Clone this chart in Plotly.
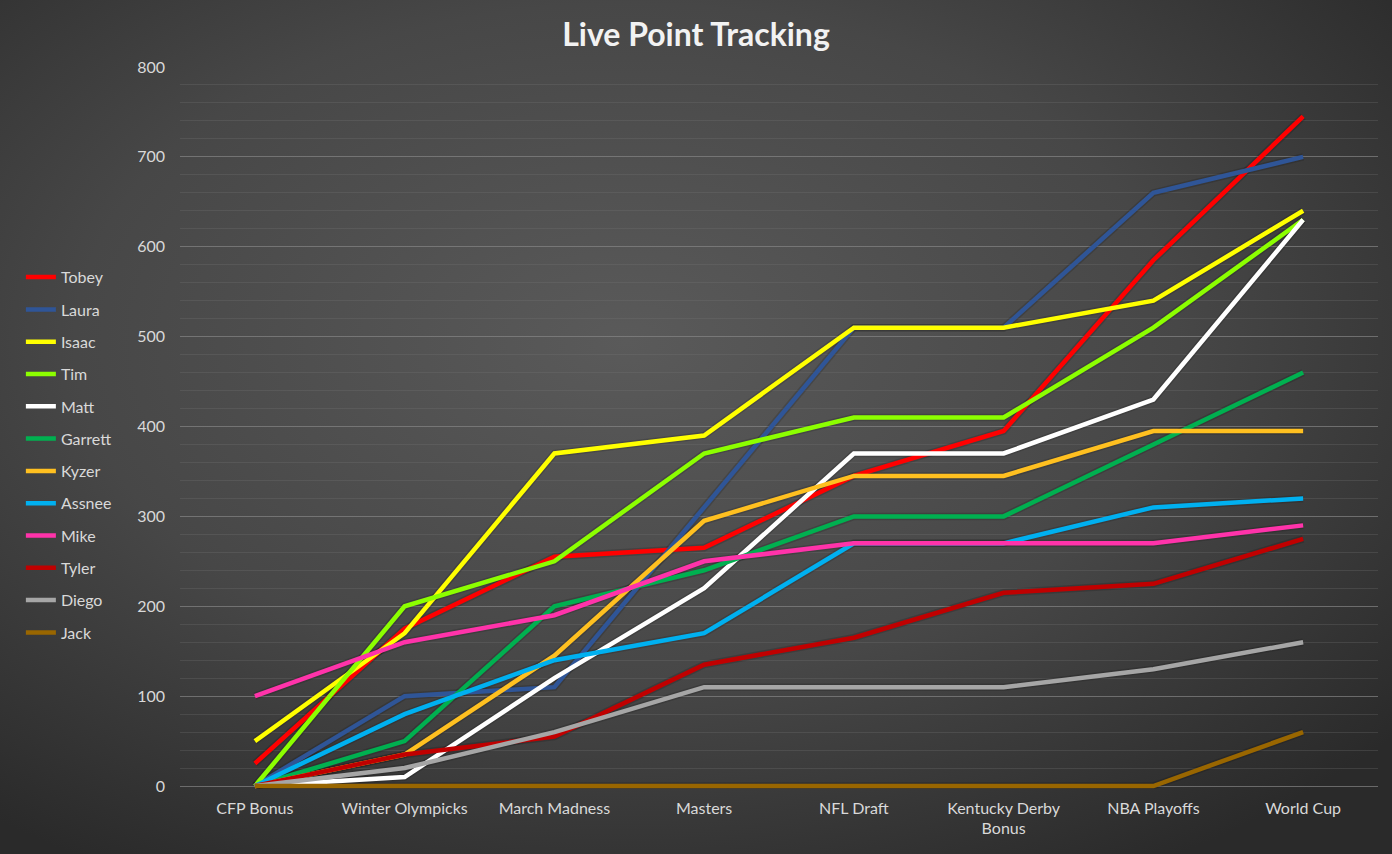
"""Live Point Tracking — 各选手累计积分折线图"""
import base64
import plotly.graph_objects as go

W, H = 1392, 854

# ============================================================
# 数据
# ============================================================
EVENTS = ["CFP Bonus", "Winter Olympicks", "March Madness", "Masters",
          "NFL Draft", "Kentucky Derby<br>Bonus", "NBA Playoffs", "World Cup"]

PLAYERS = ["Tobey", "Laura", "Isaac", "Tim", "Matt", "Garrett",
           "Kyzer", "Assnee", "Mike", "Tyler", "Diego", "Jack"]

tobey   = [25, 175, 255, 265, 345, 395, 585, 745]
laura   = [0, 100, 110, 310, 510, 510, 660, 700]
isaac   = [50, 170, 370, 390, 510, 510, 540, 640]
tim     = [0, 200, 250, 370, 410, 410, 510, 630]
matt    = [0, 10, 120, 220, 370, 370, 430, 630]
garrett = [0, 50, 200, 240, 300, 300, 380, 460]
kyzer   = [0, 35, 145, 295, 345, 345, 395, 395]
assnee  = [0, 80, 140, 170, 270, 270, 310, 320]
mike    = [100, 160, 190, 250, 270, 270, 270, 290]
tyler   = [0, 35, 55, 135, 165, 215, 225, 275]
diego   = [0, 20, 60, 110, 110, 110, 130, 160]
jack    = [0, 0, 0, 0, 0, 0, 0, 60]

SERIES = [tobey, laura, isaac, tim, matt, garrett, kyzer, assnee, mike, tyler, diego, jack]

COLORS = ["#FF0000", "#2F5597", "#FFFF00", "#8CFF00", "#FFFFFF", "#00B050",
          "#FFC020", "#00B0F0", "#FF33AA", "#C00000", "#A6A6A6", "#996600"]

Y_TICKS = [0, 100, 200, 300, 400, 500, 600, 700, 800]

FONT = "Lato, 'Open Sans', sans-serif"

# 轴位置：0 在 786px，800 在 67px；下方留一点空间让 0 线不被裁掉
PX_PER_UNIT = (786 - 67) / 800
Y_PAD = 3
Y_BOTTOM_PX = 786 + Y_PAD * PX_PER_UNIT

# ============================================================
# 背景径向渐变（SVG data URI）
# ============================================================
svg = f"""<svg xmlns="http://www.w3.org/2000/svg" width="{W}" height="{H}">
<defs><radialGradient id="g" cx="45%" cy="40%" r="72%">
<stop offset="0%" stop-color="#5a5a5a"/>
<stop offset="55%" stop-color="#474747"/>
<stop offset="100%" stop-color="#2a2a2a"/>
</radialGradient></defs>
<rect width="100%" height="100%" fill="url(#g)"/></svg>"""
bg_src = "data:image/svg+xml;base64," + base64.b64encode(svg.encode()).decode()

# ============================================================
# 画图
# ============================================================
fig = go.Figure()

# 阴影
for vals in SERIES:
    fig.add_trace(go.Scatter(
        x=EVENTS, y=vals, mode="lines",
        line=dict(color="rgba(0,0,0,0.15)", width=7.5),
        showlegend=False, hoverinfo="skip"))

for name, vals, col in zip(PLAYERS, SERIES, COLORS):
    fig.add_trace(go.Scatter(
        x=EVENTS, y=vals, mode="lines", name=name, legendgroup=name,
        line=dict(color=col, width=4.5),
        hovertemplate=name + ": %{y}<extra></extra>"))

fig.update_layout(
    width=W, height=H,
    margin=dict(l=0, r=0, t=0, b=0, autoexpand=False),
    paper_bgcolor="#404040", plot_bgcolor="rgba(0,0,0,0)",
    font=dict(family=FONT, size=16, color="#d9d9d9"),
    title=dict(text="<b>Live Point Tracking</b>", x=0.5, xanchor="center",
               y=1 - 35 / H, yanchor="middle",
               font=dict(size=32, color="#f2f2f2", family=FONT)),
    images=[dict(source=bg_src, xref="paper", yref="paper", x=0, y=1,
                 sizex=1, sizey=1, sizing="stretch", layer="below", xanchor="left", yanchor="top")],
    showlegend=True,
    legend=dict(x=0.015, xanchor="left", y=0.467, yanchor="middle",
                bgcolor="rgba(0,0,0,0)", font=dict(size=16, color="#d9d9d9"),
                tracegroupgap=8.5, itemwidth=30),
    xaxis=dict(domain=[180 / W, 1378 / W], range=[-0.5, 7.5], automargin=False,
               showgrid=False, zeroline=False, showline=False, ticks="",
               ticklabelstandoff=8,
               tickfont=dict(size=16, color="#d9d9d9"), fixedrange=True),
    yaxis=dict(domain=[(H - Y_BOTTOM_PX) / H, (H - 67) / H], range=[-Y_PAD, 800], automargin=False,
               tickvals=Y_TICKS, showgrid=True, gridcolor="rgba(140,140,140,0.55)",
               gridwidth=1, zeroline=False, showline=False, ticks="",
               ticklabelstandoff=14,
               minor=dict(tick0=0, dtick=20, showgrid=True, gridcolor="rgba(120,120,120,0.28)", gridwidth=1),
               tickfont=dict(size=16, color="#d9d9d9"), fixedrange=True),
)

fig.write_html("out.html", config={"displayModeBar": False},
               post_script="document.body.style.margin='0';document.body.style.overflow='hidden';")
